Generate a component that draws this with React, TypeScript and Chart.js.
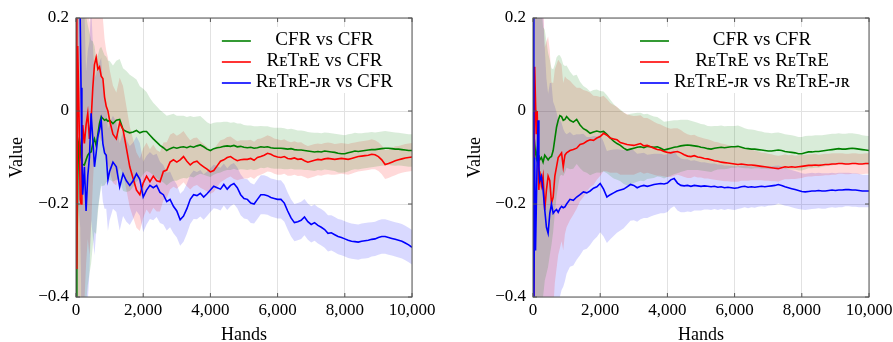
import React, { useEffect, useRef } from "react";
import { Chart, registerables } from "chart.js";
Chart.register(...registerables);

// ---------------- data ----------------
const hands = [
  0, 25, 50, 75, 100, 125, 150, 175, 200,
  250, 300, 350, 400, 450, 500, 550, 600, 650, 700, 750, 800, 850, 900, 950, 1000,
  1100, 1200, 1300, 1400, 1500, 1600, 1700, 1800, 1900, 2000,
  2100, 2200, 2300, 2400, 2500, 2600, 2700, 2800, 2900, 3000,
  3100, 3200, 3300, 3400, 3500, 3600, 3700, 3800, 3900, 4000,
  4100, 4200, 4300, 4400, 4500, 4600, 4700, 4800, 4900, 5000,
  5100, 5200, 5300, 5400, 5500, 5600, 5700, 5800, 5900, 6000,
  6100, 6200, 6300, 6400, 6500, 6600, 6700, 6800, 6900, 7000,
  7100, 7200, 7300, 7400, 7500, 7600, 7700, 7800, 7900, 8000,
  8100, 8200, 8300, 8400, 8500, 8600, 8700, 8800, 8900, 9000,
  9100, 9200, 9300, 9400, 9500, 9600, 9700, 9800, 9900, 10000,
];

// Left panel: X vs CFR
const leftCfr = [
  -0.45, -0.33, -0.15, -0.07, -0.06, -0.075, -0.1, -0.11, -0.115,
  -0.116, -0.105, -0.095, -0.09, -0.088, -0.07, -0.06, -0.075, -0.05, -0.026, -0.012, -0.016, -0.02, -0.018, -0.022, -0.02,
  -0.027, -0.02, -0.018, -0.04, -0.044, -0.047, -0.045, -0.042, -0.047, -0.044,
  -0.044, -0.052, -0.06, -0.067, -0.074, -0.079, -0.085, -0.081, -0.078, -0.08,
  -0.078, -0.077, -0.079, -0.076, -0.078, -0.075, -0.073, -0.077, -0.082, -0.085,
  -0.081, -0.079, -0.078, -0.076, -0.075, -0.076, -0.074, -0.077, -0.076, -0.078,
  -0.079, -0.078, -0.08, -0.079, -0.077, -0.078, -0.077, -0.079, -0.08, -0.08,
  -0.08, -0.081, -0.082, -0.081, -0.083, -0.084, -0.084, -0.085, -0.086, -0.087,
  -0.088, -0.087, -0.088, -0.086, -0.087, -0.088, -0.089, -0.091, -0.092, -0.092,
  -0.09, -0.088, -0.086, -0.087, -0.086, -0.085, -0.084, -0.083, -0.083, -0.082,
  -0.081, -0.08, -0.08, -0.081, -0.082, -0.082, -0.083, -0.084, -0.085, -0.085,
];
const leftCfrHalf = [
  0.6, 0.6, 0.55, 0.5, 0.48, 0.45, 0.42, 0.4, 0.38,
  0.34, 0.31, 0.28, 0.26, 0.24, 0.22, 0.2, 0.19, 0.17, 0.16, 0.15, 0.145, 0.14, 0.135, 0.13, 0.128,
  0.125, 0.128, 0.13, 0.132, 0.13, 0.125, 0.118, 0.11, 0.1, 0.092,
  0.085, 0.08, 0.078, 0.077, 0.076, 0.075, 0.075, 0.073, 0.072, 0.07,
  0.068, 0.067, 0.066, 0.065, 0.065, 0.063, 0.062, 0.06, 0.058, 0.057,
  0.056, 0.055, 0.054, 0.053, 0.052, 0.051, 0.05, 0.05, 0.049, 0.048,
  0.048, 0.047, 0.047, 0.046, 0.045, 0.045, 0.044, 0.044, 0.044, 0.044,
  0.044, 0.044, 0.043, 0.043, 0.043, 0.042, 0.042, 0.042, 0.041, 0.041,
  0.041, 0.04, 0.04, 0.04, 0.04, 0.04, 0.04, 0.041, 0.041, 0.04,
  0.04, 0.039, 0.039, 0.039, 0.038, 0.038, 0.038, 0.038, 0.037, 0.037,
  0.037, 0.037, 0.036, 0.036, 0.036, 0.035, 0.035, 0.035, 0.035, 0.035,
];
const leftRetre = [
  0.25, -0.34, 0.14, 0.05, -0.05, -0.19, -0.2, -0.1, -0.03,
  -0.07, -0.03, -0.005, -0.06, -0.02, 0.05, 0.1, 0.115, 0.09, 0.095, 0.075, 0.07, 0.03, 0.01, 0.0, -0.02,
  -0.05, -0.06, -0.025, -0.04, -0.08, -0.12, -0.145, -0.17, -0.18, -0.155,
  -0.14, -0.152, -0.14, -0.15, -0.152, -0.13, -0.127, -0.11, -0.105, -0.11,
  -0.105, -0.098, -0.108, -0.116, -0.11, -0.108, -0.115, -0.12, -0.125, -0.131,
  -0.128, -0.118, -0.108, -0.105, -0.1, -0.098, -0.103, -0.107, -0.105, -0.104,
  -0.104, -0.102, -0.106, -0.1, -0.098, -0.095, -0.091, -0.093, -0.097, -0.099,
  -0.1, -0.098, -0.102, -0.103, -0.101, -0.104, -0.103, -0.107, -0.11, -0.108,
  -0.106, -0.104, -0.105, -0.103, -0.102, -0.103, -0.104, -0.103, -0.102, -0.103,
  -0.104, -0.102, -0.1, -0.098, -0.097, -0.096, -0.095, -0.093, -0.094, -0.098,
  -0.105, -0.115, -0.113, -0.11, -0.107, -0.105, -0.103, -0.101, -0.1, -0.099,
];
const leftRetreHalf = [
  0.6, 0.6, 0.55, 0.5, 0.48, 0.45, 0.42, 0.4, 0.38,
  0.34, 0.3, 0.27, 0.25, 0.23, 0.21, 0.19, 0.17, 0.16, 0.15, 0.14, 0.13, 0.125, 0.12, 0.115, 0.11,
  0.105, 0.1, 0.097, 0.094, 0.09, 0.087, 0.084, 0.081, 0.078, 0.075,
  0.072, 0.07, 0.068, 0.066, 0.064, 0.062, 0.06, 0.059, 0.058, 0.057,
  0.056, 0.055, 0.054, 0.053, 0.052, 0.051, 0.05, 0.049, 0.048, 0.047,
  0.046, 0.046, 0.045, 0.044, 0.044, 0.043, 0.043, 0.042, 0.042, 0.041,
  0.041, 0.04, 0.04, 0.04, 0.039, 0.039, 0.039, 0.038, 0.038, 0.038,
  0.037, 0.037, 0.037, 0.036, 0.036, 0.036, 0.036, 0.035, 0.035, 0.035,
  0.035, 0.034, 0.034, 0.034, 0.034, 0.034, 0.033, 0.033, 0.033, 0.033,
  0.033, 0.033, 0.032, 0.032, 0.032, 0.032, 0.032, 0.032, 0.031, 0.031,
  0.031, 0.031, 0.031, 0.031, 0.031, 0.03, 0.03, 0.03, 0.03, 0.03,
];
const leftRetreJr = [
  0.3, 0.3, 0.3, 0.3, 0.25, 0.2, 0.05, -0.1, -0.18,
  -0.12, -0.215, -0.14, -0.1, -0.005, -0.06, -0.12, -0.09, -0.055, -0.04, -0.02, -0.07, -0.09, -0.095, -0.148, -0.13,
  -0.11, -0.12, -0.163, -0.135, -0.15, -0.16, -0.15, -0.135, -0.147, -0.185,
  -0.17, -0.16, -0.165, -0.16, -0.175, -0.18, -0.195, -0.19, -0.205, -0.215,
  -0.234, -0.226, -0.21, -0.19, -0.18, -0.182, -0.177, -0.185, -0.178, -0.17,
  -0.162, -0.165, -0.168, -0.158, -0.168, -0.16, -0.156, -0.165, -0.18, -0.188,
  -0.19, -0.198, -0.2, -0.19, -0.18, -0.18, -0.182, -0.186, -0.188, -0.19,
  -0.19, -0.198, -0.215, -0.23, -0.24, -0.238, -0.235, -0.228, -0.238, -0.244,
  -0.24, -0.246, -0.25, -0.255, -0.263, -0.262, -0.266, -0.27, -0.272, -0.275,
  -0.278, -0.28, -0.281, -0.282, -0.28, -0.279, -0.278, -0.276, -0.275, -0.272,
  -0.27, -0.27, -0.272, -0.274, -0.276, -0.278, -0.28, -0.284, -0.288, -0.293,
];
const leftRetreJrHalf = [
  0.6, 0.6, 0.55, 0.5, 0.48, 0.45, 0.42, 0.4, 0.38,
  0.34, 0.3, 0.27, 0.25, 0.23, 0.21, 0.19, 0.17, 0.155, 0.145, 0.135, 0.125, 0.12, 0.115, 0.11, 0.105,
  0.1, 0.097, 0.094, 0.091, 0.088, 0.085, 0.082, 0.08, 0.078, 0.076,
  0.074, 0.072, 0.07, 0.068, 0.066, 0.064, 0.062, 0.06, 0.058, 0.057,
  0.056, 0.055, 0.054, 0.053, 0.052, 0.051, 0.05, 0.049, 0.048, 0.047,
  0.047, 0.046, 0.046, 0.045, 0.045, 0.045, 0.044, 0.044, 0.044, 0.043,
  0.043, 0.043, 0.042, 0.042, 0.042, 0.042, 0.041, 0.041, 0.041, 0.041,
  0.041, 0.04, 0.04, 0.04, 0.04, 0.04, 0.04, 0.039, 0.039, 0.039,
  0.039, 0.039, 0.039, 0.039, 0.039, 0.038, 0.038, 0.038, 0.038, 0.038,
  0.038, 0.038, 0.038, 0.038, 0.038, 0.038, 0.038, 0.037, 0.037, 0.037,
  0.037, 0.037, 0.037, 0.037, 0.037, 0.037, 0.037, 0.037, 0.037, 0.037,
];

// Right panel: self-play
const rightCfr = [
  -0.06, -0.05, -0.07, -0.09, -0.1, -0.085, -0.095, -0.1, -0.105,
  -0.1, -0.11, -0.095, -0.1, -0.105, -0.1, -0.098, -0.085, -0.06, -0.035, -0.02, -0.01, -0.012, -0.02, -0.018, -0.012,
  -0.02, -0.024, -0.018, -0.03, -0.038, -0.042, -0.048, -0.045, -0.043, -0.045,
  -0.044, -0.05, -0.058, -0.065, -0.07, -0.074, -0.08, -0.084, -0.082, -0.08,
  -0.078, -0.077, -0.079, -0.076, -0.077, -0.078, -0.077, -0.08, -0.084, -0.082,
  -0.08, -0.078, -0.077, -0.075, -0.074, -0.073, -0.074, -0.075, -0.076, -0.078,
  -0.079, -0.081, -0.082, -0.08, -0.079, -0.078, -0.079, -0.078, -0.077, -0.077,
  -0.076, -0.078, -0.08, -0.081, -0.082, -0.082, -0.083, -0.084, -0.085, -0.086,
  -0.086, -0.085, -0.084, -0.085, -0.087, -0.088, -0.089, -0.09, -0.092, -0.092,
  -0.09, -0.088, -0.088, -0.087, -0.087, -0.086, -0.085, -0.084, -0.083, -0.082,
  -0.081, -0.082, -0.082, -0.081, -0.08, -0.081, -0.082, -0.083, -0.084, -0.085,
];
const rightCfrHalf = [
  0.6, 0.6, 0.55, 0.5, 0.47, 0.44, 0.41, 0.38, 0.36,
  0.32, 0.29, 0.27, 0.25, 0.23, 0.21, 0.19, 0.175, 0.16, 0.15, 0.14, 0.13, 0.125, 0.12, 0.115, 0.11,
  0.105, 0.1, 0.096, 0.093, 0.092, 0.091, 0.09, 0.09, 0.089, 0.088,
  0.086, 0.084, 0.082, 0.08, 0.078, 0.077, 0.077, 0.076, 0.076, 0.075,
  0.074, 0.073, 0.072, 0.07, 0.068, 0.066, 0.064, 0.062, 0.061, 0.06,
  0.059, 0.058, 0.057, 0.056, 0.055, 0.054, 0.053, 0.052, 0.051, 0.05,
  0.05, 0.049, 0.049, 0.048, 0.047, 0.047, 0.046, 0.046, 0.045, 0.045,
  0.045, 0.044, 0.043, 0.042, 0.042, 0.041, 0.04, 0.04, 0.039, 0.039,
  0.038, 0.038, 0.038, 0.037, 0.037, 0.037, 0.037, 0.036, 0.036, 0.036,
  0.036, 0.035, 0.035, 0.035, 0.035, 0.034, 0.034, 0.034, 0.034, 0.033,
  0.033, 0.033, 0.033, 0.033, 0.032, 0.032, 0.032, 0.031, 0.031, 0.031,
];
const rightRetre = [
  -0.45, -0.3, 0.095, 0.02, -0.05, 0.0, -0.1, -0.17, -0.13,
  -0.16, -0.14, -0.213, -0.17, -0.14, -0.15, -0.198, -0.185, -0.14, -0.12, -0.1, -0.095, -0.09, -0.12, -0.095, -0.09,
  -0.085, -0.083, -0.08, -0.072, -0.07, -0.065, -0.062, -0.063, -0.058, -0.055,
  -0.048, -0.052, -0.058, -0.06, -0.062, -0.068, -0.07, -0.072, -0.073, -0.074,
  -0.072, -0.07, -0.075, -0.074, -0.077, -0.08, -0.083, -0.084, -0.087, -0.089,
  -0.09, -0.088, -0.087, -0.09, -0.094, -0.097, -0.098, -0.096, -0.099, -0.1,
  -0.102, -0.103, -0.105, -0.107, -0.108, -0.11, -0.111, -0.112, -0.113, -0.114,
  -0.115, -0.114, -0.115, -0.116, -0.116, -0.117, -0.118, -0.119, -0.12, -0.121,
  -0.122, -0.123, -0.124, -0.122, -0.12, -0.121, -0.12, -0.121, -0.12, -0.119,
  -0.118, -0.117, -0.117, -0.116, -0.117, -0.116, -0.115, -0.115, -0.114, -0.114,
  -0.113, -0.113, -0.114, -0.114, -0.113, -0.113, -0.114, -0.114, -0.113, -0.113,
];
const rightRetreHalf = [
  0.6, 0.6, 0.58, 0.56, 0.54, 0.52, 0.5, 0.48, 0.46,
  0.42, 0.38, 0.35, 0.32, 0.3, 0.28, 0.26, 0.245, 0.23, 0.22, 0.21, 0.2, 0.19, 0.18, 0.17, 0.16,
  0.15, 0.14, 0.13, 0.122, 0.115, 0.108, 0.102, 0.096, 0.09, 0.085,
  0.081, 0.078, 0.075, 0.073, 0.071, 0.069, 0.067, 0.065, 0.064, 0.063,
  0.062, 0.061, 0.06, 0.059, 0.058, 0.057, 0.056, 0.055, 0.054, 0.053,
  0.052, 0.051, 0.05, 0.049, 0.048, 0.047, 0.046, 0.045, 0.044, 0.043,
  0.043, 0.042, 0.042, 0.041, 0.041, 0.04, 0.04, 0.039, 0.039, 0.038,
  0.037, 0.036, 0.035, 0.034, 0.033, 0.032, 0.031, 0.03, 0.03, 0.029,
  0.029, 0.028, 0.028, 0.027, 0.027, 0.026, 0.026, 0.025, 0.025, 0.025,
  0.024, 0.024, 0.024, 0.024, 0.023, 0.023, 0.023, 0.023, 0.023, 0.023,
  0.022, 0.022, 0.022, 0.022, 0.022, 0.022, 0.022, 0.022, 0.022, 0.022,
];
const rightRetreJr = [
  0.3, -0.45, -0.1, -0.3, -0.2, -0.1, -0.02, -0.12, -0.15,
  -0.14, -0.17, -0.213, -0.25, -0.263, -0.22, -0.2, -0.22, -0.215, -0.212, -0.218, -0.21, -0.205, -0.208, -0.206, -0.2,
  -0.19, -0.192, -0.185, -0.18, -0.174, -0.176, -0.172, -0.166, -0.163, -0.156,
  -0.168, -0.185, -0.18, -0.176, -0.172, -0.17, -0.168, -0.163, -0.158, -0.16,
  -0.165, -0.162, -0.16, -0.162, -0.16, -0.158, -0.157, -0.156, -0.157, -0.155,
  -0.148, -0.145, -0.155, -0.16, -0.161, -0.16, -0.162, -0.16, -0.161, -0.162,
  -0.161, -0.162, -0.163, -0.162, -0.164, -0.163, -0.165, -0.164, -0.165, -0.166,
  -0.165, -0.163, -0.162, -0.164, -0.163, -0.164, -0.163, -0.162, -0.163, -0.162,
  -0.161, -0.16, -0.158, -0.16, -0.163, -0.165, -0.167, -0.169, -0.171, -0.173,
  -0.174, -0.173, -0.172, -0.172, -0.171, -0.172, -0.172, -0.171, -0.17, -0.171,
  -0.17, -0.17, -0.169, -0.169, -0.17, -0.17, -0.171, -0.172, -0.172, -0.172,
];
const rightRetreJrHalf = [
  0.6, 0.6, 0.58, 0.56, 0.54, 0.52, 0.5, 0.48, 0.46,
  0.42, 0.38, 0.35, 0.32, 0.3, 0.28, 0.26, 0.24, 0.225, 0.21, 0.2, 0.19, 0.18, 0.17, 0.16, 0.15,
  0.145, 0.14, 0.135, 0.13, 0.125, 0.12, 0.116, 0.112, 0.108, 0.105,
  0.102, 0.099, 0.096, 0.093, 0.09, 0.087, 0.084, 0.081, 0.078, 0.075,
  0.073, 0.071, 0.07, 0.068, 0.067, 0.066, 0.065, 0.064, 0.063, 0.062,
  0.061, 0.06, 0.059, 0.058, 0.057, 0.056, 0.055, 0.054, 0.053, 0.052,
  0.051, 0.05, 0.05, 0.049, 0.049, 0.048, 0.048, 0.047, 0.047, 0.047,
  0.046, 0.046, 0.045, 0.045, 0.044, 0.044, 0.043, 0.043, 0.043, 0.042,
  0.042, 0.042, 0.041, 0.041, 0.041, 0.04, 0.04, 0.04, 0.04, 0.039,
  0.039, 0.039, 0.039, 0.038, 0.038, 0.038, 0.038, 0.037, 0.037, 0.037,
  0.037, 0.037, 0.036, 0.036, 0.036, 0.036, 0.036, 0.035, 0.035, 0.035,
];

const leftLabels = ["CFR vs CFR", "R\u1D07T\u0280E vs CFR", "R\u1D07T\u0280E-\u1D0A\u0280 vs CFR"];
const rightLabels = [
  "CFR vs CFR",
  "R\u1D07T\u0280E vs R\u1D07T\u0280E",
  "R\u1D07T\u0280E-\u1D0A\u0280 vs R\u1D07T\u0280E-\u1D0A\u0280",
];
const xTicks = [0, 2000, 4000, 6000, 8000, 10000];
const yTicks = [-0.4, -0.2, 0, 0.2];
const xTitle = "Hands";
const yTitle = "Value";

// ---------------- styling ----------------
const LINE_COLORS = ["rgb(0,128,0)", "rgb(255,0,0)", "rgb(0,0,255)"];
const BAND_COLORS = ["rgba(0,128,0,0.15)", "rgba(255,0,0,0.15)", "rgba(0,0,255,0.15)"];
const FONT = "'Liberation Serif', 'DejaVu Serif', serif";

type Series = { mean: number[]; half: number[] };

function fmtY(v: number) {
  if (Math.abs(v) < 1e-9) return "0";
  const s = Math.abs(v).toFixed(1);
  return v < 0 ? "\u2212" + s : s;
}

function Panel(props: {
  left: number;
  width: number;
  padLeft: number;
  yWidth: number;
  padRight: number;
  series: Series[];
  labels: string[];
}) {
  const ref = useRef<HTMLCanvasElement>(null);
  useEffect(() => {
    const { series, labels, padLeft, yWidth, padRight } = props;
    const datasets: any[] = [];
    series.forEach((s, i) => {
      datasets.push({
        data: hands.map((h, k) => ({ x: h, y: s.mean[k] - s.half[k] })),
        borderWidth: 0,
        borderColor: "transparent",
        pointRadius: 0,
        fill: false,
        order: 10 + i,
      });
      datasets.push({
        data: hands.map((h, k) => ({ x: h, y: s.mean[k] + s.half[k] })),
        borderWidth: 0,
        borderColor: "transparent",
        backgroundColor: BAND_COLORS[i],
        pointRadius: 0,
        fill: "-1",
        order: 10 + i,
      });
    });
    series.forEach((s, i) => {
      datasets.push({
        data: hands.map((h, k) => ({ x: h, y: s.mean[k] })),
        borderColor: LINE_COLORS[i],
        borderWidth: 1.6,
        pointRadius: 0,
        fill: false,
        tension: 0,
        order: 3 - i,
      });
    });

    const framePlugin = {
      id: "frameLegend",
      afterDatasetsDraw(chart: any) {
        const { ctx, chartArea: a, scales } = chart;
        ctx.save();
        // legend box
        ctx.font = `19px ${FONT}`;
        const w = Math.max(...labels.map((l) => ctx.measureText(l).width));
        const textRight = a.right - 19;
        const textCenter = textRight - w / 2;
        const lineEnd = textRight - w - 5;
        const lineStart = lineEnd - 29;
        ctx.fillStyle = "#ffffff";
        ctx.fillRect(lineStart - 5, a.top + 9, textRight + 7 - (lineStart - 5), 66);
        labels.forEach((l, i) => {
          const y = a.top + 23 + i * 21;
          ctx.strokeStyle = LINE_COLORS[i];
          ctx.lineWidth = 1.6;
          ctx.beginPath();
          ctx.moveTo(lineStart, y);
          ctx.lineTo(lineEnd, y);
          ctx.stroke();
          ctx.fillStyle = "#000";
          ctx.textAlign = "center";
          ctx.textBaseline = "middle";
          ctx.fillText(l, textCenter, y - 1);
        });
        // ticks + frame
        ctx.strokeStyle = "#555";
        ctx.lineWidth = 1;
        ctx.beginPath();
        for (const v of xTicks) {
          const x = scales.x.getPixelForValue(v);
          ctx.moveTo(x, a.bottom);
          ctx.lineTo(x, a.bottom - 4);
          ctx.moveTo(x, a.top);
          ctx.lineTo(x, a.top + 4);
        }
        for (const v of yTicks) {
          const y = scales.y.getPixelForValue(v);
          ctx.moveTo(a.left, y);
          ctx.lineTo(a.left + 4, y);
          ctx.moveTo(a.right, y);
          ctx.lineTo(a.right - 4, y);
        }
        ctx.stroke();
        ctx.strokeRect(a.left, a.top, a.right - a.left, a.bottom - a.top);
        ctx.restore();
      },
    };

    const chart = new Chart(ref.current as HTMLCanvasElement, {
      type: "line",
      data: { datasets },
      options: {
        animation: false,
        responsive: false,
        devicePixelRatio: 1,
        layout: { padding: { left: padLeft, right: padRight, top: 18, bottom: 0 } },
        plugins: {
          legend: { display: false },
          tooltip: { enabled: false },
          filler: { drawTime: "beforeDatasetsDraw" },
        } as any,
        scales: {
          x: {
            type: "linear",
            min: 0,
            max: 10000,
            afterBuildTicks: (s: any) => {
              s.ticks = xTicks.map((v) => ({ value: v }));
            },
            afterFit: (s: any) => {
              s.height = 45;
            },
            ticks: {
              callback: (v: any) => Number(v).toLocaleString("en-US"),
              font: { family: FONT, size: 17 },
              color: "#000",
              padding: 3,
              maxRotation: 0,
              autoSkip: false,
            },
            grid: { color: "#e2e2e2", drawTicks: false, lineWidth: 1 },
            border: { display: false },
            title: {
              display: true,
              text: xTitle,
              color: "#000",
              font: { family: FONT, size: 18, lineHeight: 0.7 },
              padding: 0,
            },
          },
          y: {
            type: "linear",
            min: -0.4,
            max: 0.2,
            afterBuildTicks: (s: any) => {
              s.ticks = yTicks.map((v) => ({ value: v }));
            },
            afterFit: (s: any) => {
              s.width = yWidth;
            },
            ticks: {
              callback: (v: any) => fmtY(Number(v)),
              font: { family: FONT, size: 17 },
              color: "#000",
              padding: 7,
              autoSkip: false,
            },
            grid: { color: "#e2e2e2", drawTicks: false, lineWidth: 1 },
            border: { display: false },
            title: {
              display: true,
              text: yTitle,
              color: "#000",
              font: { family: FONT, size: 18, lineHeight: 1 },
              padding: { top: 8, bottom: 0 },
            },
          },
        } as any,
      },
      plugins: [framePlugin],
    });
    return () => chart.destroy();
  }, []);

  return (
    <canvas
      ref={ref}
      width={props.width}
      height={342}
      style={{ position: "absolute", left: props.left, top: 0, width: props.width, height: 342 }}
    />
  );
}

export default function App() {
  useEffect(() => {
    document.body.style.margin = "0";
  }, []);
  const leftSeries: Series[] = [
    { mean: leftCfr, half: leftCfrHalf },
    { mean: leftRetre, half: leftRetreHalf },
    { mean: leftRetreJr, half: leftRetreJrHalf },
  ];
  const rightSeries: Series[] = [
    { mean: rightCfr, half: rightCfrHalf },
    { mean: rightRetre, half: rightRetreHalf },
    { mean: rightRetreJr, half: rightRetreJrHalf },
  ];
  return (
    <div style={{ position: "relative", width: 893, height: 342, background: "#fff", overflow: "hidden" }}>
      <Panel left={0} width={446} padLeft={0} yWidth={76} padRight={34} series={leftSeries} labels={leftLabels} />
      <Panel left={446} width={460} padLeft={12} yWidth={75} padRight={37} series={rightSeries} labels={rightLabels} />
    </div>
  );
}
